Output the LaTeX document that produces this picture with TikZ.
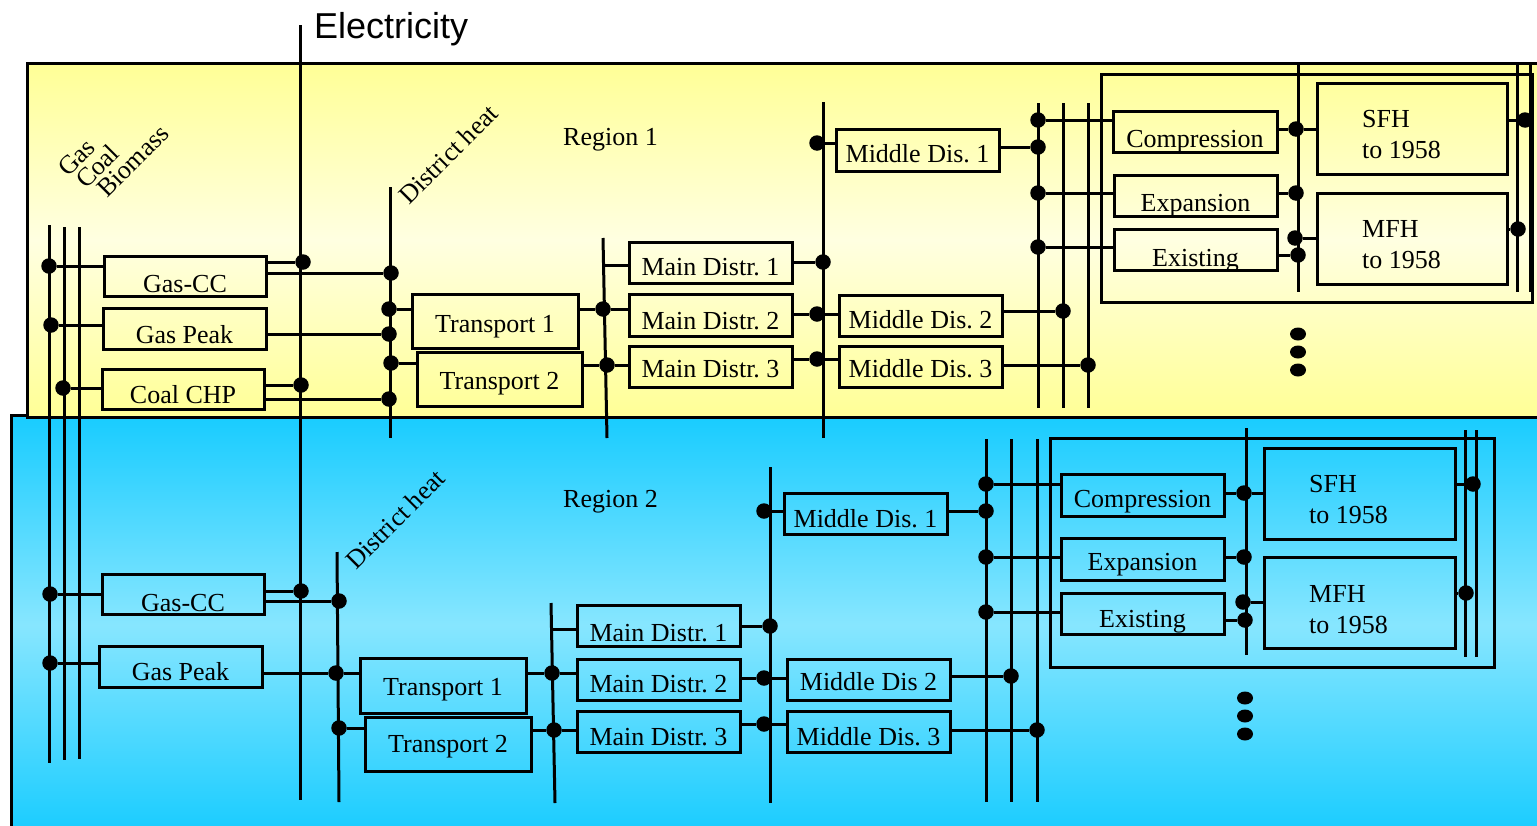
\documentclass[tikz,border=0pt]{standalone}
\usepackage{fontspec}
\setmainfont{Liberation Serif}
\newfontfamily\elfont{Liberation Sans}
\usetikzlibrary{shapes.geometric}
\frenchspacing
\definecolor{ydeep}{RGB}{255,255,150}
\definecolor{ylight}{RGB}{255,255,225}
\definecolor{bdeep}{RGB}{24,204,255}
\definecolor{blight}{RGB}{135,230,255}
\tikzset{
 ln/.style={line width=3pt},
 bxst/.style={draw, line width=3pt, rectangle, inner sep=0pt, font=\fontsize{26}{31}\selectfont},
 jdot/.style={circle, fill=black, inner sep=0pt, minimum size=15.5pt},
 edot/.style={ellipse, fill=black, inner sep=0pt, minimum width=16pt, minimum height=13pt},
 lbl/.style={inner sep=0pt, font=\fontsize{26}{31}\selectfont},
 rlbl/.style={lbl, rotate=45, anchor=base west},
}
% name, x1, y1, x2, y2, baseline, text
\newcommand\bx[7]{%
 \pgfmathsetmacro\bxw{#4-#2}\pgfmathsetmacro\bxh{#5-#3}%
 \pgfmathsetmacro\bxcx{(#2+#4)/2}\pgfmathsetmacro\bxcy{(#3+#5)/2}%
 \pgfmathsetmacro\bxo{#6-\bxcy}%
 \pgfmathsetmacro\bxth{\bxh/2+\bxo}\pgfmathsetmacro\bxtd{\bxh/2-\bxo}%
 \node[bxst, minimum width=\bxw pt, minimum height=\bxh pt, text height=\bxth pt, text depth=\bxtd pt] (#1) at (\bxcx,\bxcy) {#7};}
\begin{document}
\begin{tikzpicture}[x=1pt,y=-1pt]
\useasboundingbox (0,0) rectangle (1537,825);
\clip (0,0) rectangle (1537,825);
% backgrounds
\shadedraw[line width=3pt, top color=bdeep, bottom color=bdeep, middle color=blight] (11,415) rectangle (1560,835);
\shadedraw[line width=3pt, top color=ydeep, bottom color=ydeep, middle color=ylight] (27,63) rectangle (1560,417);

% electricity
\coordinate (eT) at (300,25); \coordinate (eB) at (300,800);
\draw[ln] (eT) -- (eB);
\node[inner sep=0pt, anchor=base west, font=\elfont\fontsize{36}{40}\selectfont] (elec) at (314,38) {Electricity};
% fuel lines
\coordinate (fa1) at (49,225); \coordinate (fa2) at (49,763);
\coordinate (fb1) at (64,227); \coordinate (fb2) at (64,760);
\coordinate (fc1) at (79,227); \coordinate (fc2) at (79,759);
\draw[ln] (fa1) -- (fa2); \draw[ln] (fb1) -- (fb2); \draw[ln] (fc1) -- (fc2);
\node[rlbl] (lgas) at (68,178) {Gas};
\node[rlbl] (lcoal) at (86,190) {Coal};
\node[rlbl] (lbio) at (107,199) {Biomass};

%%%%%%%%%%%%%%%% REGION 1
\node[lbl, anchor=base west] (reg1) at (563,145) {Region 1};
\node[rlbl] (dh1) at (409,206) {District heat};
% buses
\coordinate (hT1) at (390,187); \coordinate (hB1) at (390,438); \draw[ln] (hT1) -- (hB1);
\coordinate (mT1) at (603,238); \coordinate (mB1) at (607,438); \draw[ln] (mT1) -- (mB1);
\coordinate (nT1) at (823,102); \coordinate (nB1) at (823,438); \draw[ln] (nT1) -- (nB1);
\foreach \xx/\nm in {1038/ra,1063/rb,1088/rc}{
  \coordinate (\nm T1) at (\xx,103); \coordinate (\nm B1) at (\xx,408); \draw[ln] (\nm T1) -- (\nm B1);}
\coordinate (vT1) at (1298,63); \coordinate (vB1) at (1298,292); \draw[ln] (vT1) -- (vB1);
\coordinate (waT1) at (1517,63); \coordinate (waB1) at (1517,292); \draw[ln] (waT1) -- (waB1);
\coordinate (wbT1) at (1530,63); \coordinate (wbB1) at (1530,292); \draw[ln] (wbT1) -- (wbB1);
% boxes
\bx{gcc1}{104}{256}{266}{296}{292}{Gas-CC}
\bx{gpk1}{103}{308}{266}{349}{343}{Gas Peak}
\bx{chp1}{102}{369}{264}{409}{403}{Coal CHP}
\bx{tr11}{412}{294}{578}{348}{332}{Transport 1}
\bx{tr21}{417}{352}{582}{406}{389}{Transport 2}
\bx{md11}{629}{242}{792}{283}{275}{Main Distr. 1}
\bx{md21}{629}{294}{792}{336}{329}{Main Distr. 2}
\bx{md31}{629}{346}{792}{387}{377}{Main Distr. 3}
\bx{mi11}{836}{129}{999}{171}{162}{Middle Dis. 1}
\bx{mi21}{839}{295}{1002}{336}{328}{Middle Dis. 2}
\bx{mi31}{839}{346}{1002}{387}{377}{Middle Dis. 3}
\bx{out1}{1101}{74}{1532}{302}{188}{}
\bx{cmp1}{1113}{111}{1277}{152}{147}{Compression}
\bx{exp1}{1114}{175}{1277}{216}{211}{Expansion}
\bx{exi1}{1114}{229}{1277}{270}{266}{Existing}
\bx{sfh1}{1317}{83}{1507}{174}{128}{}
\bx{mfh1}{1317}{193}{1507}{284}{238}{}
\node[lbl, anchor=base west] (sfh1a) at (1362,127) {SFH};
\node[lbl, anchor=base west] (sfh1b) at (1362,158) {to 1958};
\node[lbl, anchor=base west] (mfh1a) at (1362,237) {MFH};
\node[lbl, anchor=base west] (mfh1b) at (1362,268) {to 1958};
% dots
\node[jdot] (f11) at (49,266) {};
\node[jdot] (f12) at (51,325) {};
\node[jdot] (f13) at (63,388) {};
\node[jdot] (e11) at (303,262) {};
\node[jdot] (e12) at (301,385) {};
\node[jdot] (h11) at (391,273) {};
\node[jdot] (h12) at (389,309) {};
\node[jdot] (h13) at (389,334) {};
\node[jdot] (h14) at (391,363) {};
\node[jdot] (h15) at (389,399) {};
\node[jdot] (m11) at (603,309) {};
\node[jdot] (m12) at (607,365) {};
\coordinate (b11) at (604,265);
\node[jdot] (n10) at (817,143) {};
\node[jdot] (n11) at (823,262) {};
\node[jdot] (n12) at (817,314) {};
\node[jdot] (n13) at (817,359) {};
\node[jdot] (r11) at (1038,120) {};
\node[jdot] (r12) at (1038,147) {};
\node[jdot] (r13) at (1038,193) {};
\node[jdot] (r14) at (1038,247) {};
\node[jdot] (s11) at (1063,311) {};
\node[jdot] (t11) at (1088,365) {};
\node[jdot] (v11) at (1296,129) {};
\node[jdot] (v12) at (1296,193) {};
\node[jdot] (v13) at (1295,238) {};
\node[jdot] (v14) at (1298,255) {};
\node[jdot] (w11) at (1525,120) {};
\node[jdot] (w12) at (1518,229) {};
\node[edot] (el11) at (1298,334) {};
\node[edot] (el12) at (1298,352) {};
\node[edot] (el13) at (1298,370) {};
% connectors
\draw[ln] (f11) -- (gcc1.west |- f11);
\draw[ln] (f12) -- (gpk1.west |- f12);
\draw[ln] (f13) -- (chp1.west |- f13);
\draw[ln] (gcc1.east |- e11) -- (e11);
\draw[ln] (gcc1.east |- h11) -- (h11);
\draw[ln] (gpk1.east |- h13) -- (h13);
\draw[ln] (chp1.east |- e12) -- (e12);
\draw[ln] (chp1.east |- h15) -- (h15);
\draw[ln] (h12) -- (tr11.west |- h12);
\draw[ln] (h14) -- (tr21.west |- h14);
\draw[ln] (tr11.east |- m11) -- (m11) -- (md21.west |- m11);
\draw[ln] (tr21.east |- m12) -- (m12) -- (md31.west |- m12);
\draw[ln] (b11) -- (md11.west |- b11);
\draw[ln] (md11.east |- n11) -- (n11);
\draw[ln] (md21.east |- n12) -- (n12) -- (mi21.west |- n12);
\draw[ln] (md31.east |- n13) -- (n13) -- (mi31.west |- n13);
\draw[ln] (n10) -- (mi11.west |- n10);
\draw[ln] (mi11.east |- r12) -- (r12);
\draw[ln] (mi21.east |- s11) -- (s11);
\draw[ln] (mi31.east |- t11) -- (t11);
\draw[ln] (r11) -- (cmp1.west |- r11);
\draw[ln] (r13) -- (exp1.west |- r13);
\draw[ln] (r14) -- (exi1.west |- r14);
\draw[ln] (cmp1.east |- v11) -- (v11) -- (sfh1.west |- v11);
\draw[ln] (exp1.east |- v12) -- (v12);
\draw[ln] (v13) -- (mfh1.west |- v13);
\draw[ln] (exi1.east |- v14) -- (v14);
\draw[ln] (sfh1.east |- w11) -- (w11);
\draw[ln] (mfh1.east |- w12) -- (w12);

%%%%%%%%%%%%%%%% REGION 2
\node[lbl, anchor=base west] (reg2) at (563,507) {Region 2};
\node[rlbl] (dh2) at (356,571) {District heat};
\coordinate (hT2) at (337,552); \coordinate (hB2) at (339,802); \draw[ln] (hT2) -- (hB2);
\coordinate (mT2) at (551,603); \coordinate (mB2) at (555,803); \draw[ln] (mT2) -- (mB2);
\coordinate (nT2) at (770,467); \coordinate (nB2) at (770,803); \draw[ln] (nT2) -- (nB2);
\foreach \xx/\nm in {986/ra,1011/rb,1037/rc}{
  \coordinate (\nm T2) at (\xx,439); \coordinate (\nm B2) at (\xx,802); \draw[ln] (\nm T2) -- (\nm B2);}
\coordinate (vT2) at (1246,428); \coordinate (vB2) at (1246,655); \draw[ln] (vT2) -- (vB2);
\coordinate (waT2) at (1465,430); \coordinate (waB2) at (1465,657); \draw[ln] (waT2) -- (waB2);
\coordinate (wbT2) at (1476,430); \coordinate (wbB2) at (1476,657); \draw[ln] (wbT2) -- (wbB2);
\bx{gcc2}{102}{574}{264}{614}{611}{Gas-CC}
\bx{gpk2}{99}{646}{262}{687}{680}{Gas Peak}
\bx{tr12}{360}{658}{526}{713}{695}{Transport 1}
\bx{tr22}{365}{717}{531}{771}{752}{Transport 2}
\bx{md12}{577}{605}{740}{646}{641}{Main Distr. 1}
\bx{md22}{577}{659}{740}{700}{692}{Main Distr. 2}
\bx{md32}{577}{711}{740}{752}{745}{Main Distr. 3}
\bx{mi12}{784}{493}{947}{534}{527}{Middle Dis. 1}
\bx{mi22}{787}{659}{950}{700}{690}{Middle Dis 2}
\bx{mi32}{787}{711}{950}{752}{745}{Middle Dis. 3}
\bx{out2}{1050}{438}{1494}{667}{552}{}
\bx{cmp2}{1061}{474}{1224}{516}{507}{Compression}
\bx{exp2}{1061}{538}{1224}{580}{570}{Expansion}
\bx{exi2}{1061}{593}{1224}{634}{627}{Existing}
\bx{sfh2}{1264}{448}{1455}{539}{493}{}
\bx{mfh2}{1264}{557}{1455}{648}{602}{}
\node[lbl, anchor=base west] (sfh2a) at (1309,492) {SFH};
\node[lbl, anchor=base west] (sfh2b) at (1309,523) {to 1958};
\node[lbl, anchor=base west] (mfh2a) at (1309,602) {MFH};
\node[lbl, anchor=base west] (mfh2b) at (1309,633) {to 1958};
\node[jdot] (f21) at (50,594) {};
\node[jdot] (f22) at (50,663) {};
\node[jdot] (e21) at (301,591) {};
\node[jdot] (h21) at (339,601) {};
\node[jdot] (h22) at (336,673) {};
\node[jdot] (h23) at (339,728) {};
\node[jdot] (m21) at (552,673) {};
\node[jdot] (m22) at (554,730) {};
\coordinate (b21) at (552,629);
\node[jdot] (n20) at (764,511) {};
\node[jdot] (n21) at (770,626) {};
\node[jdot] (n22) at (764,678) {};
\node[jdot] (n23) at (764,724) {};
\node[jdot] (r21) at (986,484) {};
\node[jdot] (r22) at (986,511) {};
\node[jdot] (r23) at (986,557) {};
\node[jdot] (r24) at (986,612) {};
\node[jdot] (s21) at (1011,676) {};
\node[jdot] (t21) at (1037,730) {};
\node[jdot] (v21) at (1244,493) {};
\node[jdot] (v22) at (1244,557) {};
\node[jdot] (v23) at (1243,602) {};
\node[jdot] (v24) at (1245,620) {};
\node[jdot] (w21) at (1473,484) {};
\node[jdot] (w22) at (1466,593) {};
\node[edot] (el21) at (1245,698) {};
\node[edot] (el22) at (1245,716) {};
\node[edot] (el23) at (1245,734) {};
\draw[ln] (f21) -- (gcc2.west |- f21);
\draw[ln] (f22) -- (gpk2.west |- f22);
\draw[ln] (gcc2.east |- e21) -- (e21);
\draw[ln] (gcc2.east |- h21) -- (h21);
\draw[ln] (gpk2.east |- h22) -- (h22) -- (tr12.west |- h22);
\draw[ln] (h23) -- (tr22.west |- h23);
\draw[ln] (tr12.east |- m21) -- (m21) -- (md22.west |- m21);
\draw[ln] (tr22.east |- m22) -- (m22) -- (md32.west |- m22);
\draw[ln] (b21) -- (md12.west |- b21);
\draw[ln] (md12.east |- n21) -- (n21);
\draw[ln] (md22.east |- n22) -- (n22) -- (mi22.west |- n22);
\draw[ln] (md32.east |- n23) -- (n23) -- (mi32.west |- n23);
\draw[ln] (n20) -- (mi12.west |- n20);
\draw[ln] (mi12.east |- r22) -- (r22);
\draw[ln] (mi22.east |- s21) -- (s21);
\draw[ln] (mi32.east |- t21) -- (t21);
\draw[ln] (r21) -- (cmp2.west |- r21);
\draw[ln] (r23) -- (exp2.west |- r23);
\draw[ln] (r24) -- (exi2.west |- r24);
\draw[ln] (cmp2.east |- v21) -- (v21) -- (sfh2.west |- v21);
\draw[ln] (exp2.east |- v22) -- (v22);
\draw[ln] (v23) -- (mfh2.west |- v23);
\draw[ln] (exi2.east |- v24) -- (v24);
\draw[ln] (sfh2.east |- w21) -- (w21);
\draw[ln] (mfh2.east |- w22) -- (w22);
\end{tikzpicture}
\end{document}
